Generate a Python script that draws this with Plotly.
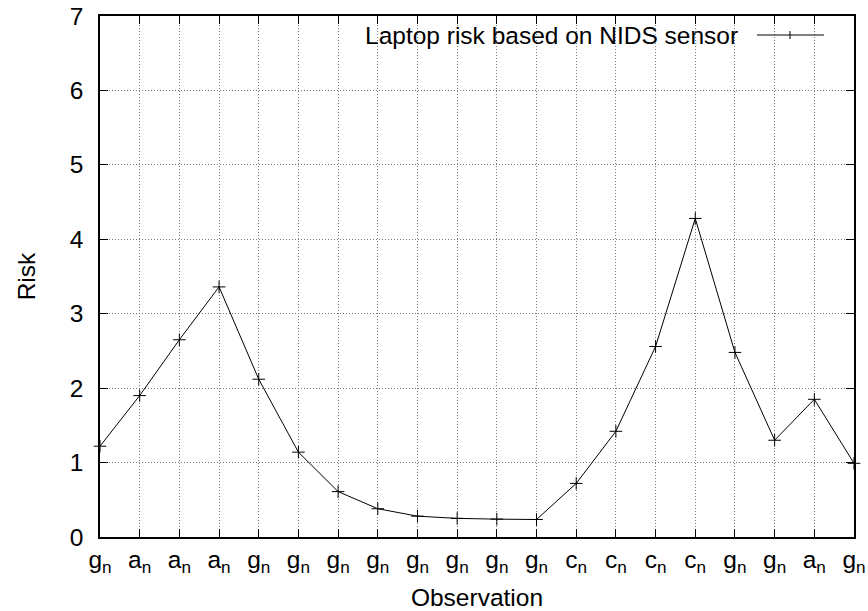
import plotly.graph_objects as go

observations = ["g", "a", "a", "a", "g", "g", "g", "g", "g", "g",
                "g", "g", "c", "c", "c", "c", "g", "g", "a", "g"]
risk = [1.22, 1.90, 2.65, 3.36, 2.12, 1.14, 0.61, 0.38, 0.28, 0.25,
        0.24, 0.235, 0.72, 1.42, 2.56, 4.28, 2.48, 1.30, 1.85, 0.99]
y_ticks = [0, 1, 2, 3, 4, 5, 6, 7]
series_name = "Laptop risk based on NIDS sensor"

x_idx = list(range(len(observations)))
tick_text = [f"{c}<sub>n</sub>" for c in observations]

FONT = "Liberation Sans, Arial, Helvetica, sans-serif"
FS = 24.5

fig = go.Figure()
fig.add_trace(go.Scatter(
    x=x_idx, y=risk, mode="lines+markers", name=series_name,
    line=dict(color="black", width=1),
    marker=dict(symbol="cross-thin", size=9, line=dict(color="black", width=1)),
    cliponaxis=False, showlegend=False,
))

L, R, T, B = 100, 14, 16, 74
W, H = 868, 611
pw = W - L - R
ph = H - T - B

def px(x):
    return (x - L) / pw

def py(y):
    return (H - B - y) / ph

GRID = dict(showgrid=True, gridcolor="#7a7a7a", griddash="1px,2px", gridwidth=1)

fig.update_layout(
    width=W, height=H,
    margin=dict(l=L, r=R, t=T, b=B, pad=0, autoexpand=False),
    paper_bgcolor="white", plot_bgcolor="white",
    font=dict(family=FONT, size=FS, color="black"),
    xaxis=dict(
        range=[0, len(observations) - 1],
        tickmode="array", tickvals=x_idx, ticktext=tick_text,
        ticks="inside", ticklen=8, tickcolor="black", tickwidth=1,
        showline=True, linecolor="black", linewidth=1.5, mirror="ticks",
        zeroline=False, automargin=False,
        title=dict(text="Observation", standoff=15, font=dict(size=FS)),
        tickfont=dict(size=FS),
        **GRID,
    ),
    yaxis=dict(
        range=[0, 7],
        tickmode="array", tickvals=y_ticks,
        ticktext=[str(v) for v in y_ticks],
        ticks="inside", ticklen=8, tickcolor="black", tickwidth=1,
        showline=True, linecolor="black", linewidth=1.5, mirror="ticks",
        zeroline=False, automargin=False,
        ticklabelstandoff=10,
        title=dict(text="Risk", standoff=27, font=dict(size=FS)),
        tickfont=dict(size=FS),
        **GRID,
    ),
    showlegend=False,
)

# key box (opaque, hides grid behind it)
fig.add_shape(type="rect", xref="paper", yref="paper",
              x0=px(280), x1=px(845), y0=py(48), y1=py(17),
              fillcolor="white", line=dict(width=0), layer="between")
fig.add_annotation(text=series_name, xref="paper", yref="paper",
                   x=px(740), y=py(35), xanchor="right", yanchor="middle",
                   showarrow=False, font=dict(family=FONT, size=FS, color="black"))
fig.add_shape(type="line", xref="paper", yref="paper",
              x0=px(757), x1=px(824), y0=py(35), y1=py(35),
              line=dict(color="black", width=1))
fig.add_shape(type="line", xref="paper", yref="paper",
              x0=px(790), x1=px(790), y0=py(31), y1=py(39),
              line=dict(color="black", width=1))

fig.write_html("out.html",
               config={"displayModeBar": False},
               post_script="document.body.style.margin='0';document.body.style.overflow='hidden';")
